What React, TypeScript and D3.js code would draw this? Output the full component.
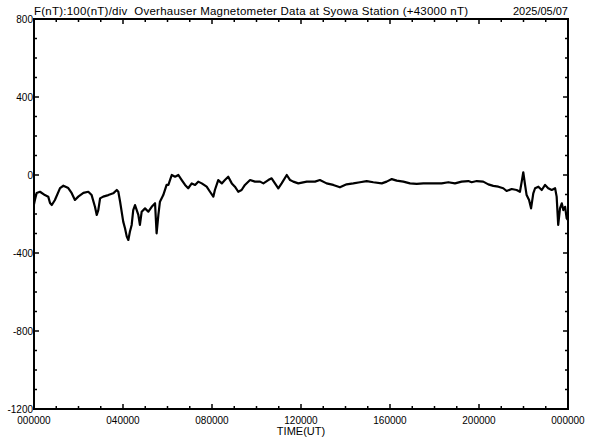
import React from "react";
import * as d3 from "d3";

const hours = [
  0.0, 0.04, 0.12, 0.27, 0.49, 0.64, 0.72, 0.8, 0.94, 1.17, 1.32, 1.54, 1.69, 1.84, 1.99, 2.22, 2.44, 2.59, 2.74, 2.82, 2.89, 2.97,
  3.11, 3.34, 3.56, 3.72, 3.79, 3.87, 4.01, 4.09, 4.17, 4.24, 4.31, 4.39, 4.46, 4.54, 4.69, 4.76, 4.84, 4.99, 5.14, 5.29, 5.44,
  5.51, 5.59, 5.66, 5.81, 5.96, 6.04, 6.19, 6.34, 6.49, 6.64, 6.79, 6.93, 7.09, 7.24, 7.38, 7.54, 7.76, 7.91, 8.06, 8.13, 8.28,
  8.44, 8.58, 8.73, 8.89, 9.03, 9.18, 9.33, 9.48, 9.71, 9.93, 10.16, 10.31, 10.53, 10.68, 10.83, 10.98, 11.13, 11.36, 11.51,
  11.65, 11.88, 12.26, 12.63, 12.85, 13.15, 13.45, 13.75, 14.05, 14.35, 14.65, 14.95, 15.25, 15.63, 15.85, 16.08, 16.3, 16.6,
  16.9, 17.2, 17.5, 17.8, 18.1, 18.32, 18.62, 18.92, 19.22, 19.52, 19.67, 19.9, 20.19, 20.42, 20.64, 20.87, 21.09, 21.24, 21.47,
  21.69, 21.84, 21.92, 21.99, 22.07, 22.14, 22.25, 22.34, 22.44, 22.52, 22.67, 22.82, 22.97, 23.11, 23.27, 23.42, 23.49, 23.56,
  23.64, 23.72, 23.79, 23.87, 23.94, 24.0,
];

const fValues = [
  -150, -128, -92, -86, -103, -111, -144, -154, -128, -67, -55, -67, -92, -128, -111, -92, -86, -103, -163, -205, -180, -120,
  -111, -103, -94, -77, -86, -137, -239, -273, -316, -333, -291, -256, -180, -154, -205, -256, -188, -171, -188, -163, -145,
  -299, -205, -137, -103, -51, -51, 0, -9, 0, -26, -51, -68, -43, -51, -34, -43, -60, -86, -111, -77, -26,
  -43, -26, -9, -43, -60, -86, -77, -51, -26, -34, -34, -43, -26, -17, -43, -68, -43, 0, -26,
  -34, -43, -34, -34, -26, -43, -51, -63, -48, -43, -37, -31, -37, -43, -34, -21, -29, -34,
  -43, -46, -43, -43, -43, -43, -37, -43, -34, -31, -37, -31, -34, -48, -56, -60, -68, -82, -72,
  -77, -86, -34, 14, -51, -103, -128, -171, -94, -68, -60, -77, -51, -68, -77, -68, -111, -256,
  -171, -145, -180, -163, -222, -231,
];

const yTickLabels = [800, 400, 0, -400, -800, -1200];
const xTickLabels = ["000000", "040000", "080000", "120000", "160000", "200000", "000000"];
const titleText = "F(nT):100(nT)/div  Overhauser Magnetometer Data at Syowa Station (+43000 nT)";
const dateText = "2025/05/07";
const xAxisTitle = "TIME(UT)";

const W = 592;
const H = 440;
const L = 34;
const R = 568;
const T = 19;
const B = 409;

export default function App() {
  const x = d3.scaleLinear().domain([0, 24]).range([L, R]);
  const y = d3.scaleLinear().domain([-1200, 800]).range([B, T]);
  const data = hours.map((h, i) => [h, fValues[i]] as [number, number]);
  const line = d3
    .line<[number, number]>()
    .x((d) => x(d[0]))
    .y((d) => y(d[1]));

  const hourTicks = d3.range(0, 25, 1);
  const nTTicks = d3.range(-1200, 801, 100);
  const font = "'Liberation Sans', Arial, sans-serif";

  return (
    <svg
      width={W}
      height={H}
      style={{ position: "absolute", left: 0, top: 0, background: "#fff" }}
    >
      <rect x={0} y={0} width={W} height={H} fill="#fff" />
      {hourTicks.map((h) => {
        const major = h % 4 === 0;
        const len = major ? 5 : 3;
        return (
          <g key={"xt" + h}>
            <line x1={x(h)} x2={x(h)} y1={B} y2={B - len} stroke="#000" strokeWidth={1.5} />
            <line x1={x(h)} x2={x(h)} y1={T} y2={T + len} stroke="#000" strokeWidth={1.5} />
          </g>
        );
      })}
      {nTTicks.map((v) => {
        const major = v % 400 === 0;
        const len = major ? 5 : 3;
        return (
          <g key={"yt" + v}>
            <line x1={L} x2={L + len} y1={y(v)} y2={y(v)} stroke="#000" strokeWidth={1.5} />
            <line x1={R} x2={R - len} y1={y(v)} y2={y(v)} stroke="#000" strokeWidth={1.5} />
          </g>
        );
      })}
      <rect x={L} y={T} width={R - L} height={B - T} fill="none" stroke="#000" strokeWidth={2} />
      <path d={line(data) || ""} fill="none" stroke="#000" strokeWidth={2.2} strokeLinejoin="round" />
      {yTickLabels.map((v) => (
        <text
          key={"yl" + v}
          x={L - 1}
          y={y(v) + 4}
          textAnchor="end"
          fontFamily={font}
          fontSize={10}
          fill="#000"
        >
          {v}
        </text>
      ))}
      {xTickLabels.map((s, i) => (
        <text
          key={"xl" + i}
          x={x(i * 4)}
          y={424}
          textAnchor="middle"
          fontFamily={font}
          fontSize={10}
          fill="#000"
        >
          {s}
        </text>
      ))}
      <text x={(L + R) / 2} y={435} textAnchor="middle" fontFamily={font} fontSize={11} fill="#000">
        {xAxisTitle}
      </text>
      <text
        x={L}
        y={15}
        fontFamily={font}
        fontSize={11.5}
        fill="#000"
        textLength={434}
        lengthAdjust="spacing"
        style={{ whiteSpace: "pre" }}
      >
        {titleText}
      </text>
      <text x={R} y={15} textAnchor="end" fontFamily={font} fontSize={11} fill="#000">
        {dateText}
      </text>
    </svg>
  );
}
